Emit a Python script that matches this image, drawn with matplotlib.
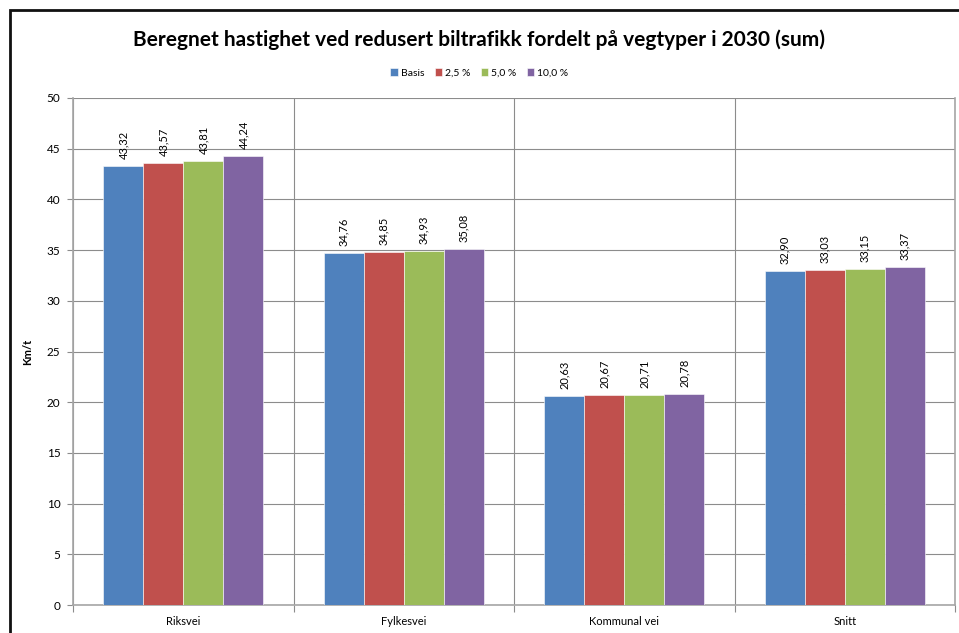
import numpy as np
import matplotlib.pyplot as plt
from matplotlib.patches import Rectangle

plt.rcParams['font.family'] = ['Lato', 'DejaVu Sans']

# data
kategorier = ['Riksvei', 'Fylkesvei', 'Kommunal vei', 'Snitt']
serier = ['Basis', '2,5 %', '5,0 %', '10,0 %']
basis = [43.32, 34.76, 20.63, 32.90]
p25 = [43.57, 34.85, 20.67, 33.03]
p50 = [43.81, 34.93, 20.71, 33.15]
p100 = [44.24, 35.08, 20.78, 33.37]
farger = ['#4F81BD', '#C0504D', '#9BBB59', '#8064A2']

fig = plt.figure(figsize=(9.59, 6.33), dpi=100)
ax = fig.add_axes([73/959, 1 - 605/633, (955 - 73)/959, (605 - 98)/633])

# ramme rundt diagrammet
fig.patches.append(Rectangle((10/959, -0.1), 1.2, 1 - 10/633 + 0.1,
                             transform=fig.transFigure, fill=False,
                             edgecolor='#111111', linewidth=2.0, zorder=10))

x = np.arange(len(kategorier))
w = 40 / 220.5
for i, (navn, verdier) in enumerate(zip(serier, [basis, p25, p50, p100])):
    pos = x + (i - 1.5) * w
    ax.bar(pos, verdier, w, color=farger[i], edgecolor='white', linewidth=0.4,
           label=navn, zorder=3)
    for xp, v in zip(pos, verdier):
        ax.annotate(f'{v:.2f}'.replace('.', ','), (xp, v), xytext=(0, 5),
                    textcoords='offset points', rotation=90, ha='center',
                    va='bottom', fontsize=8)

ax.set_xlim(-0.5, 3.5)
ax.set_ylim(0, 50)
ax.set_yticks(np.arange(0, 51, 5))
ax.yaxis.grid(True, color='#8c8c8c', linewidth=0.8, zorder=0)

# vertikale skillelinjer mellom kategoriene
ax.set_xticks(np.arange(-0.5, 4, 1))
ax.set_xticklabels([])
ax.set_xticks(x, minor=True)
ax.set_xticklabels(kategorier, minor=True, fontsize=8)
ax.xaxis.grid(True, which='major', color='#8c8c8c', linewidth=0.8, zorder=0)
ax.tick_params(axis='x', which='major', length=5, color='#8c8c8c')
ax.tick_params(axis='x', which='minor', length=0, pad=8)
ax.tick_params(axis='y', length=4, color='#8c8c8c', labelsize=8.5, pad=5)

ax.spines['top'].set_visible(False)
for s in ['left', 'bottom', 'right']:
    ax.spines[s].set_color('#a6a6a6')
    ax.spines[s].set_linewidth(1.2)

ax.set_ylabel('Km/t', fontsize=8, fontweight='bold', labelpad=10)

fig.text(0.499, 1 - 40/633, 'Beregnet hastighet ved redusert biltrafikk fordelt på vegtyper i 2030 (sum)',
         ha='center', va='center', fontsize=15, fontweight='bold')
fig.legend(loc='center', bbox_to_anchor=(0.5, 1 - 73/633), ncol=4, frameon=False,
           fontsize=7.5, handlelength=0.7, handleheight=0.7, handletextpad=0.3,
           columnspacing=1.0)

fig.savefig('out.png', dpi=100)
